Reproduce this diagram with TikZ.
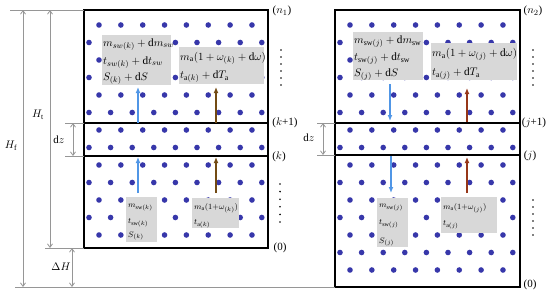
\documentclass[tikz,border=0pt]{standalone}
\usepackage{fontspec}
\setmainfont{Liberation Serif}
\usetikzlibrary{arrows.meta}
\definecolor{dotblue}{RGB}{55,55,170}
\definecolor{arrblue}{RGB}{80,150,230}
\definecolor{arrbrown}{RGB}{115,75,20}
\definecolor{arrred}{RGB}{150,55,25}
\definecolor{boxgray}{RGB}{216,216,216}
\definecolor{dimgray}{RGB}{150,150,150}
\newcommand\dotfield[2]{%
  \foreach \r in {0,...,#2}{%
    \pgfmathtruncatemacro\rpar{mod(\r,2)}%
    \ifnum\rpar=0
      \foreach \i in {0,...,7}{\fill[dotblue] (#1+15+21.85*\i, 25+17.5*\r) circle[radius=2.8pt];}%
    \else
      \foreach \i in {0,...,8}{\fill[dotblue] (#1+5+21.6*\i, 25+17.5*\r) circle[radius=2.8pt];}%
    \fi}}
\newcommand\vdotcol[3]{%
  \foreach \k in {0,...,5}{\fill[black] (#1, #2+\k*#3) circle[radius=0.9pt];}}
\begin{document}
\begin{tikzpicture}[x=1pt,y=-1pt,
  dimline/.style={draw=dimgray, line width=0.8pt},
  dimarrow/.style={dimline, {Straight Barb[length=3.5pt,width=5pt]}-{Straight Barb[length=3.5pt,width=5pt]}},
  frame/.style={draw=black, line width=1.6pt},
  graybox/.style={fill=boxgray},
  bigtxt/.style={anchor=base west, inner sep=0pt, font=\fontsize{11.2}{14}\selectfont},
  smalltxt/.style={anchor=base west, inner sep=0pt, font=\fontsize{8.5}{10}\selectfont},
  lab/.style={inner sep=0pt, font=\fontsize{11}{13}\selectfont},
  flowarrow/.style={line width=1.6pt, -{Latex[length=6pt,width=5pt]}}]
\useasboundingbox (0,0) rectangle (550,297);
% dots
\dotfield{84}{12}
\dotfield{335}{14}
% gray boxes
\fill[graybox] (102,35) rectangle (171,85);
\fill[graybox] (179,47) rectangle (264,84);
\fill[graybox] (353,32) rectangle (423,80);
\fill[graybox] (431,43) rectangle (517,80);
\fill[graybox] (126,197) rectangle (157,242);
\fill[graybox] (192,198) rectangle (239,228);
\fill[graybox] (377,198) rectangle (408,247);
\fill[graybox] (441,197) rectangle (497,233);
% texts top left
\node[bigtxt] (tl1) at (103,46) {$m_{sw(k)}+\mathrm{d}m_{sw}$};
\node[bigtxt] (tl2) at (103,64) {$t_{sw(k)}+\mathrm{d}t_{sw}$};
\node[bigtxt] (tl3) at (103,80.5) {$S_{(k)}+\mathrm{d}S$};
\node[bigtxt] (tl4) at (180,60) {$m_\mathrm{a}\bigl(1+\omega_{(k)}+\mathrm{d}\omega\bigr)$};
\node[bigtxt] (tl5) at (180,78.5) {$t_{\mathrm{a}(k)}+\mathrm{d}T_\mathrm{a}$};
% texts top right
\node[bigtxt] (tr1) at (354,43.5) {$m_{\mathrm{sw}(j)}+\mathrm{d}m_\mathrm{sw}$};
\node[bigtxt] (tr2) at (354,60.5) {$t_{\mathrm{sw}(j)}+\mathrm{d}t_\mathrm{sw}$};
\node[bigtxt] (tr3) at (354,76.5) {$S_{(j)}+\mathrm{d}S$};
\node[bigtxt] (tr4) at (432,56.5) {$m_\mathrm{a}\bigl(1+\omega_{(j)}+\mathrm{d}\omega\bigr)$};
\node[bigtxt] (tr5) at (432,75.5) {$t_{\mathrm{a}(j)}+\mathrm{d}T_\mathrm{a}$};
% texts lower left
\node[smalltxt] (ll1) at (128,207.5) {$m_{\mathrm{sw}(k)}$};
\node[smalltxt] (ll2) at (128,223.5) {$t_{\mathrm{sw}(k)}$};
\node[smalltxt] (ll3) at (128,237) {$S_{(k)}$};
\node[smalltxt] (ll4) at (194,209.5) {$m_\mathrm{a}(1{+}\omega_{(k)})$};
\node[smalltxt] (ll5) at (194,224.5) {$t_{\mathrm{a}(k)}$};
% texts lower right
\node[smalltxt] (lr1) at (379,207.5) {$m_{\mathrm{sw}(j)}$};
\node[smalltxt] (lr2) at (379,224.5) {$t_{\mathrm{sw}(j)}$};
\node[smalltxt] (lr3) at (379,243) {$S_{(j)}$};
\node[smalltxt] (lr4) at (443,209.5) {$m_\mathrm{a}(1{+}\omega_{(j)})$};
\node[smalltxt] (lr5) at (443,225.5) {$t_{\mathrm{a}(j)}$};
% frames
\draw[frame] (84,10) rectangle (268,248);
\draw[frame] (84,123) -- (268,123);
\draw[frame] (84,156) -- (268,156);
\draw[frame] (335,10) rectangle (520,287);
\draw[frame] (335,123) -- (520,123);
\draw[frame] (335,155) -- (520,155);
% flow arrows
\coordinate (a1s) at (138,123); \coordinate (a1e) at (138,87);
\coordinate (a2s) at (216,123); \coordinate (a2e) at (216,87);
\coordinate (a3s) at (138,193); \coordinate (a3e) at (138,157);
\coordinate (a4s) at (216,193); \coordinate (a4e) at (216,157);
\coordinate (a5s) at (390,84);  \coordinate (a5e) at (390,121);
\coordinate (a6s) at (467,122); \coordinate (a6e) at (467,88);
\coordinate (a7s) at (391,156); \coordinate (a7e) at (391,193);
\coordinate (a8s) at (467,193); \coordinate (a8e) at (467,157);
\draw[flowarrow, arrblue] (a1s) -- (a1e);
\draw[flowarrow, arrbrown] (a2s) -- (a2e);
\draw[flowarrow, arrblue] (a3s) -- (a3e);
\draw[flowarrow, arrbrown] (a4s) -- (a4e);
\draw[flowarrow, arrblue] (a5s) -- (a5e);
\draw[flowarrow, arrred] (a6s) -- (a6e);
\draw[flowarrow, arrblue] (a7s) -- (a7e);
\draw[flowarrow, arrred] (a8s) -- (a8e);
% dimension lines
\coordinate (t0) at (10,10);  \coordinate (t1) at (84,10);
\coordinate (g0) at (15,287); \coordinate (g1) at (335,287);
\coordinate (b0) at (45,248); \coordinate (b1) at (84,248);
\coordinate (k0) at (65,123); \coordinate (k1) at (84,123);
\coordinate (j0) at (65,156); \coordinate (j1) at (84,156);
\coordinate (rk0) at (317,123); \coordinate (rk1) at (335,123);
\coordinate (rj0) at (317,155); \coordinate (rj1) at (335,155);
\draw[dimline] (t0) -- (t1);
\draw[dimline] (g0) -- (g1);
\draw[dimline] (b0) -- (b1);
\draw[dimline] (k0) -- (k1);
\draw[dimline] (j0) -- (j1);
\draw[dimline] (rk0) -- (rk1);
\draw[dimline] (rj0) -- (rj1);
\coordinate (hf0) at (23,10); \coordinate (hf1) at (23,287);
\coordinate (ht0) at (50,10); \coordinate (ht1) at (50,248);
\coordinate (dh0) at (72,248); \coordinate (dh1) at (72,287);
\coordinate (dz0) at (73,123); \coordinate (dz1) at (73,156);
\coordinate (rdz0) at (323,123); \coordinate (rdz1) at (323,155);
\draw[dimarrow] (hf0) -- (hf1);
\draw[dimarrow] (ht0) -- (ht1);
\draw[dimarrow] (dh0) -- (dh1);
\draw[dimarrow] (dz0) -- (dz1);
\draw[dimarrow] (rdz0) -- (rdz1);
% labels
\node[lab] (lht) at (38,115) {$H_\mathrm{t}$};
\node[lab] (lhf) at (11,146) {$H_\mathrm{f}$};
\node[lab] (ldz) at (59,140) {d$z$};
\node[lab] (ldh) at (61,267) {$\Delta H$};
\node[lab] (lrdz) at (309,138) {d$z$};
\node[lab] (n1) at (282,11) {($n_1$)};
\node[lab] (kp1) at (285,123) {($k$+1)};
\node[lab] (kk) at (279,157) {($k$)};
\node[lab] (z1) at (280,248) {(0)};
\node[lab] (n2) at (533,11) {($n_2$)};
\node[lab] (jp1) at (534,123) {($j$+1)};
\node[lab] (jj) at (530,156) {($j$)};
\node[lab] (z2) at (530,285) {(0)};
% vertical ellipses
\vdotcol{281}{50}{7}
\vdotcol{280}{184}{7.6}
\vdotcol{533}{50}{7}
\vdotcol{533}{200}{7}
\end{tikzpicture}
\end{document}
